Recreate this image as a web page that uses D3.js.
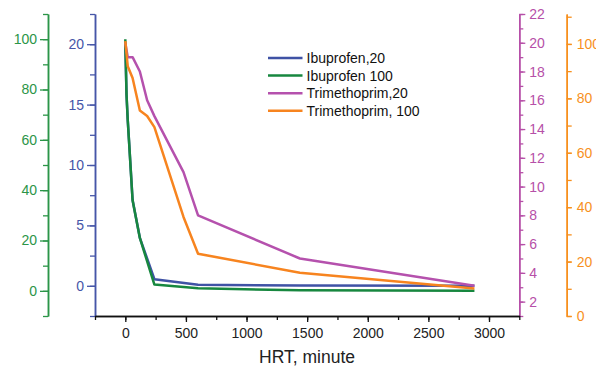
<!DOCTYPE html>
<html>
<head>
<meta charset="utf-8">
<script src="https://cdn.jsdelivr.net/npm/d3@7"></script>
<style>
  body { margin: 0; background: #fff; }
  svg text { font-family: "Liberation Sans", Arial, sans-serif; }
</style>
</head>
<body>
<svg id="chart" width="596" height="368"></svg>
<script>
// sampling times, minutes
const ibuTimes = [0, 10, 20, 30, 60, 120, 240, 600, 1440, 2880];
const triTimes = [0, 20, 60, 120, 180, 240, 480, 600, 1440, 2880];

const ibuprofen20 = [20, 15.8, 13.7, 12.1, 7.1, 3.97, 0.55, 0.08, 0.03, 0.0];
const ibuprofen100 = [100, 78, 68, 60, 36, 21, 2.5, 1.0, 0.2, 0.0];
const trimethoprim20 = [20, 19, 19, 18, 16, 14.9, 11, 8, 5, 3.1];
const trimethoprim100 = [101, 91.8, 87.5, 75.5, 73.5, 69.4, 36.4, 22.9, 15.9, 10.1];

const seriesNames = ["Ibuprofen,20", "Ibuprofen 100", "Trimethoprim,20", "Trimethoprim, 100"];
const seriesColors = ["#3f52a5", "#17873f", "#b551ad", "#f7841f"];

const xTicks = [0, 500, 1000, 1500, 2000, 2500, 3000];
const greenTicks = [0, 20, 40, 60, 80, 100];
const blueTicks = [0, 5, 10, 15, 20];
const magentaTicks = [2, 4, 6, 8, 10, 12, 14, 16, 18, 20, 22];
const orangeTicks = [0, 20, 40, 60, 80, 100];

const svg = d3.select("#chart");
const plotTop = 14, plotBottom = 316;

const x = d3.scaleLinear().domain([-250, 3250]).range([95, 519.3]);
const yBlue = d3.scaleLinear().domain([-2.5, 22.5]).range([plotBottom, plotTop]);
const yGreen = d3.scaleLinear().domain([-10, 110]).range([plotBottom, plotTop]);
const yMag = d3.scaleLinear().domain([1, 22]).range([plotBottom, plotTop]);
const yOr = d3.scaleLinear().domain([0, 111]).range([plotBottom, plotTop]);

const range = (a, b, s) => d3.range(a, b + s / 2, s);

// minor ticks go in their own group, otherwise the second call reuses the ticks
function drawAxis(axisFn, scale, transform, major, minor, color, majorSize, minorSize, pad, fmt) {
  const gMinor = svg.append("g").attr("transform", transform);
  gMinor.call(axisFn(scale).tickValues(minor).tickSize(minorSize).tickSizeOuter(0).tickFormat(""));
  const g = svg.append("g").attr("transform", transform);
  g.call(axisFn(scale).tickValues(major).tickSize(majorSize).tickSizeOuter(0).tickPadding(pad).tickFormat(fmt || d3.format("d")));
  [gMinor, g].forEach(a => {
    a.selectAll("path.domain").attr("stroke", color).attr("stroke-width", 1.5);
    a.selectAll("line").attr("stroke", color).attr("stroke-width", 1.3);
  });
  g.selectAll("text").attr("fill", color).style("font-size", "14px");
  return g;
}

// green axis (Ibuprofen 100)
drawAxis(d3.axisLeft, yGreen, "translate(48,0)", greenTicks, range(-10, 110, 10), "#2b9548", 8, 5, 3);
// blue axis (Ibuprofen 20)
drawAxis(d3.axisLeft, yBlue, "translate(95,0)", blueTicks, range(-2.5, 22.5, 2.5), "#4656a8", 8, 5, 3);
// magenta axis (Trimethoprim 20)
drawAxis(d3.axisRight, yMag, "translate(519.3,0)", magentaTicks, range(1, 22, 1), "#b64fa8", 6, 4, 4);
// orange axis (Trimethoprim 100)
drawAxis(d3.axisRight, yOr, "translate(566.7,0)", orangeTicks, range(0, 110, 10), "#f7901e", 5, 5, 5);

// x axis
const gx = drawAxis(d3.axisBottom, x, `translate(0,${plotBottom})`, xTicks, range(-250, 3250, 250), "#111", 6, 4, 6);
gx.selectAll("text").attr("fill", "#222");

svg.append("text")
  .attr("x", 307).attr("y", 363)
  .attr("text-anchor", "middle")
  .style("font-size", "17.5px")
  .attr("fill", "#222")
  .text("HRT, minute");

// lines
const series = [
  {times: ibuTimes, vals: ibuprofen20, y: yBlue},
  {times: ibuTimes, vals: ibuprofen100, y: yGreen},
  {times: triTimes, vals: trimethoprim20, y: yMag},
  {times: triTimes, vals: trimethoprim100, y: yOr}
];

series.forEach((s, i) => {
  const line = d3.line()
    .x((d, j) => x(s.times[j]))
    .y(d => s.y(d));
  svg.append("path")
    .datum(s.vals)
    .attr("fill", "none")
    .attr("stroke", seriesColors[i])
    .attr("stroke-width", 2.5)
    .attr("stroke-linejoin", "round")
    .attr("d", line);
});

// legend
const legend = svg.append("g").attr("transform", "translate(268,58)");
seriesNames.forEach((name, i) => {
  const row = legend.append("g").attr("transform", `translate(0,${i * 17.6})`);
  row.append("line")
    .attr("x1", 0).attr("x2", 34.5)
    .attr("stroke", seriesColors[i])
    .attr("stroke-width", 2.5);
  row.append("text")
    .attr("x", 38.5).attr("y", 5)
    .style("font-size", "14px")
    .attr("fill", "#111")
    .text(name);
});
</script>
</body>
</html>
